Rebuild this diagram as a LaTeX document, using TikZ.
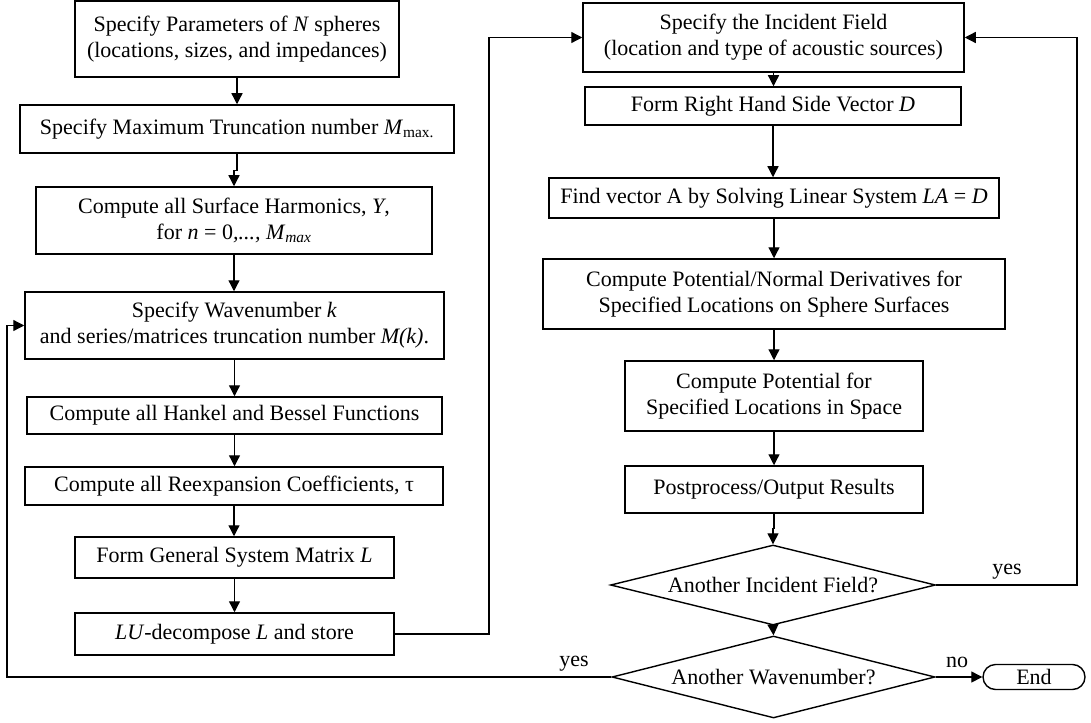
\documentclass[tikz,border=0pt]{standalone}
\usepackage{fontspec}
\setmainfont{Liberation Serif}
\usetikzlibrary{arrows.meta,shapes.geometric}
\begin{document}
\begin{tikzpicture}[x=1pt,y=-1pt,
  every node/.style={font=\fontsize{22}{26}\selectfont},
  box/.style={draw, line width=1.5pt, rectangle, inner sep=0pt, align=center},
  decision/.style={draw, line width=1.4pt, diamond, inner sep=0pt, align=center},
  terminal/.style={draw, line width=1.4pt, rectangle, rounded corners=12.5pt, inner sep=0pt, minimum width=102pt, minimum height=25pt},
  lbl/.style={inner sep=0pt},
  arr/.style={line width=1.3pt, -{Triangle[length=11pt,width=11pt]}}
]
\useasboundingbox (0,0) rectangle (1091,722);
% left column
\node[box, minimum width=324pt, minimum height=76pt] (b1) at (237,39) {Specify Parameters of \textit{N} spheres\\(locations, sizes, and impedances)};
\node[box, minimum width=434pt, minimum height=48pt] (b2) at (237,129) {Specify Maximum Truncation number \textit{M}\textsubscript{max.}};
\node[box, minimum width=396pt, minimum height=67pt] (b3) at (234,220.5) {Compute all Surface Harmonics, \textit{Y},\\for \textit{n} = 0\textit{,...,} \textit{M}\textsubscript{\textit{max}}};
\node[box, minimum width=419pt, minimum height=67pt] (b4) at (234.5,325.5) {Specify Wavenumber \textit{k}\\and series/matrices truncation number \textit{M(k)}.};
\node[box, minimum width=415pt, minimum height=37pt] (b5) at (234.5,415.5) {Compute all Hankel and Bessel Functions};
\node[box, minimum width=418pt, minimum height=38pt] (b6) at (234,486) {Compute all Reexpansion Coefficients, τ};
\node[box, minimum width=319pt, minimum height=41pt] (b7) at (234.5,557.5) {Form General System Matrix \textit{L}};
\node[box, minimum width=319pt, minimum height=42pt] (b8) at (234.5,634) {\textit{LU}-decompose \textit{L} and store};
% right column
\node[box, minimum width=381pt, minimum height=69pt] (b9) at (773.5,37.5) {Specify the Incident Field\\(location and type of acoustic sources)};
\node[box, minimum width=376pt, minimum height=38pt] (b10) at (773,106) {Form Right Hand Side Vector \textit{D}};
\node[box, minimum width=450pt, minimum height=40pt] (b11) at (774,198) {Find vector A by Solving Linear System \textit{LA} = \textit{D}};
\node[box, minimum width=462pt, minimum height=70pt] (b12) at (774,294) {Compute Potential/Normal Derivatives for\\Specified Locations on Sphere Surfaces};
\node[box, minimum width=298pt, minimum height=70pt] (b13) at (774,396) {Compute Potential for\\Specified Locations in Space};
\node[box, minimum width=298pt, minimum height=47pt] (b14) at (774,489.5) {Postprocess/Output Results};
\node[decision, minimum width=325pt, minimum height=80pt, aspect=4.06] (d1) at (773,585) {Another Incident Field?};
\node[decision, minimum width=323pt, minimum height=82pt, aspect=3.94] (d2) at (773.5,677) {Another Wavenumber?};
\node[terminal] (end) at (1034,677) {End};
% labels
\node[lbl] (yes1) at (1007,572) {yes};
\node[lbl] (yes2) at (574,664) {yes};
\node[lbl] (no) at (957,662) {no};
% helper coordinates
\coordinate (lux) at (489,0);
\coordinate (rx) at (1077,0);
\coordinate (lx) at (7,0);
% connectors left
\draw[arr] (b1.south) -- (b1.south |- b2.north);
\draw[arr] (b2.south) -- ++(0,17) -| (b3.north);
\draw[arr] (b3.south) -- (b3.south |- b4.north);
\draw[arr] (b4.south) -- (b4.south |- b5.north);
\draw[arr] (b5.south) -- (b5.south |- b6.north);
\draw[arr] (b6.south) -- (b6.south |- b7.north);
\draw[arr] (b7.south) -- (b7.south |- b8.north);
\draw[arr] (b8.east) -- (b8.east -| lux) |- (b9.west);
% connectors right
\draw[arr] (b9.south) -- (b9.south |- b10.north);
\draw[arr] (b10.south) -- (b10.south |- b11.north);
\draw[arr] (b11.south) -- (b11.south |- b12.north);
\draw[arr] (b12.south) -- (b12.south |- b13.north);
\draw[arr] (b13.south) -- (b13.south |- b14.north);
\draw[arr] (b14.south) -- ++(0,15) -| (d1.north);
\draw[arr] (d1.south) -- (d2.north);
\draw[arr] (d1.east) -- (d1.east -| rx) |- (b9.east);
\draw[arr] (d2.west) -- (d2.west -| lx) |- (b4.west);
\draw[arr] (d2.east) -- (end.west);
\end{tikzpicture}
\end{document}
